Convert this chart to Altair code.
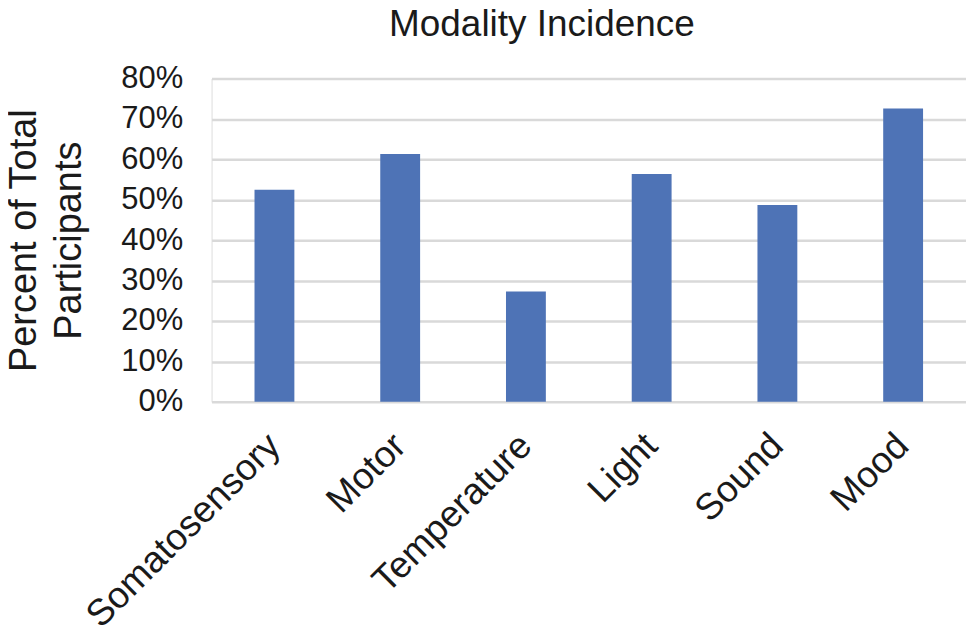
import altair as alt
import pandas as pd

categories = ["Somatosensory", "Motor", "Temperature", "Light", "Sound", "Mood"]
values = [0.525, 0.613, 0.273, 0.564, 0.487, 0.726]

df = pd.DataFrame({"Modality": categories, "Percent": values})

FONT = "Liberation Sans"

chart = (
    alt.Chart(df)
    .mark_bar(color="#4E73B6")
    .encode(
        x=alt.X(
            "Modality:N",
            sort=categories,
            title=None,
            scale=alt.Scale(paddingInner=0.683, paddingOuter=0.3415),
            axis=alt.Axis(
                labelAngle=-45,
                labelAlign="right",
                labelBaseline="middle",
                labelFontSize=37,
                labelFont=FONT,
                labelColor="#1a1a1a",
                labelPadding=38,
                labelLimit=500,
                labelOverlap=False,
                ticks=False,
                domain=False,
                grid=False,
            ),
        ),
        y=alt.Y(
            "Percent:Q",
            scale=alt.Scale(domain=[0, 0.8], nice=False),
            title=["Percent of Total", "Participants"],
            axis=alt.Axis(
                format=".0%",
                values=[0, 0.1, 0.2, 0.3, 0.4, 0.5, 0.6, 0.7, 0.8],
                labelFontSize=31,
                labelFont=FONT,
                labelColor="#1a1a1a",
                labelPadding=29,
                ticks=False,
                domain=False,
                gridColor="#d9d9d9",
                gridWidth=2.5,
                titleFont=FONT,
                titleFontSize=38,
                titleFontWeight="normal",
                titleColor="#1a1a1a",
                titleLineHeight=45,
                titleAngle=-90,
                titleAlign="center",
                titleBaseline="middle",
                titleX=-187,
                titleY=162,
            ),
        ),
    )
    .properties(
        width=756,
        height=324,
        title=alt.TitleParams(
            "Modality Incidence",
            font=FONT,
            fontSize=37,
            fontWeight="normal",
            color="#1a1a1a",
            dx=-47,
            dy=-15,
        ),
        autosize=alt.AutoSizeParams(type="none"),
        padding={"left": 204, "top": 70, "right": 0, "bottom": 231},
    )
    .configure_view(stroke=None)
    .configure(background="white")
)

chart.save("out.html", embed_options={"renderer": "svg", "actions": False})
